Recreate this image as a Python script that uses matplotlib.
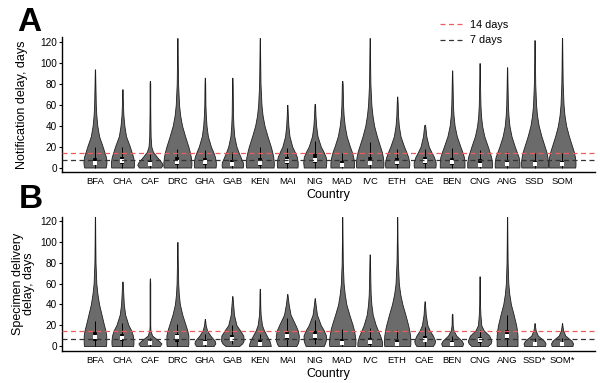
import matplotlib
matplotlib.use("Agg")
import matplotlib.pyplot as plt
from matplotlib.lines import Line2D
import numpy as np

plt.rcParams['font.family'] = ['Liberation Sans', 'DejaVu Sans']

countries_a = ["BFA", "CHA", "CAF", "DRC", "GHA", "GAB", "KEN", "MAI", "NIG",
               "MAD", "IVC", "ETH", "CAE", "BEN", "CNG", "ANG", "SSD", "SOM"]
countries_b = ["BFA", "CHA", "CAF", "DRC", "GHA", "GAB", "KEN", "MAI", "NIG",
               "MAD", "IVC", "ETH", "CAE", "BEN", "CNG", "ANG", "SSD*", "SOM*"]

# density profile levels (days) and half-widths
levels = [0, 2.5, 5, 10, 15, 20, 30, 40, 50, 60, 80, 100]

prof_a = [
    [0.39, 0.41, 0.42, 0.40, 0.34, 0.28, 0.15, 0.085, 0.05, 0.03, 0.015],
    [0.41, 0.42, 0.42, 0.39, 0.33, 0.27, 0.13, 0.07, 0.035, 0.02],
    [0.40, 0.46, 0.42, 0.26, 0.11, 0.05, 0.025, 0.02, 0.015],
    [0.50, 0.51, 0.51, 0.49, 0.45, 0.40, 0.28, 0.17, 0.10, 0.06, 0.025, 0.015],
    [0.39, 0.40, 0.40, 0.37, 0.30, 0.22, 0.11, 0.06, 0.035, 0.02, 0.012],
    [0.38, 0.39, 0.38, 0.30, 0.22, 0.15, 0.07, 0.04, 0.025, 0.02, 0.012],
    [0.50, 0.51, 0.51, 0.49, 0.45, 0.40, 0.28, 0.17, 0.10, 0.06, 0.025, 0.015],
    [0.37, 0.38, 0.38, 0.35, 0.27, 0.18, 0.08, 0.04, 0.02],
    [0.40, 0.41, 0.42, 0.40, 0.32, 0.22, 0.10, 0.05, 0.025],
    [0.43, 0.43, 0.43, 0.40, 0.35, 0.28, 0.16, 0.09, 0.05, 0.03, 0.015],
    [0.49, 0.50, 0.50, 0.48, 0.44, 0.38, 0.26, 0.16, 0.10, 0.06, 0.025, 0.015],
    [0.43, 0.44, 0.44, 0.40, 0.33, 0.25, 0.12, 0.06, 0.03, 0.02],
    [0.39, 0.40, 0.40, 0.34, 0.24, 0.15, 0.06, 0.02],
    [0.45, 0.45, 0.45, 0.43, 0.37, 0.30, 0.17, 0.09, 0.05, 0.03, 0.015],
    [0.45, 0.45, 0.45, 0.42, 0.36, 0.30, 0.17, 0.09, 0.05, 0.03, 0.015],
    [0.45, 0.45, 0.45, 0.42, 0.35, 0.28, 0.16, 0.085, 0.05, 0.03, 0.015],
    [0.48, 0.49, 0.49, 0.47, 0.43, 0.37, 0.25, 0.15, 0.09, 0.055, 0.025, 0.015],
    [0.48, 0.49, 0.49, 0.47, 0.43, 0.37, 0.25, 0.15, 0.09, 0.055, 0.025, 0.015],
]
max_a = [94, 75, 83, 124, 86, 86, 124, 60, 61, 83, 124, 68, 41, 93, 100, 96, 122, 124]
med_a = [4, 6, 3, 5, 5, 3, 4, 6, 7, 2, 4, 5, 6, 5, 2, 3, 3, 3]
q1_a = [2, 3, 1, 2, 2, 1, 1, 3, 4, 1, 2, 2, 3, 2, 1, 1, 1, 1]
q3_a = [9, 10, 6, 10, 9, 7, 9, 10, 13, 6, 10, 9, 10, 9, 8, 7, 6, 6]
wlo_a = [0] * 18
whi_a = [20, 20, 13, 18, 17, 15, 20, 19, 25, 14, 24, 18, 18, 19, 17, 15, 14, 14]

prof_b = [
    [0.40, 0.41, 0.41, 0.41, 0.38, 0.33, 0.24, 0.15, 0.09, 0.05, 0.02, 0.012],
    [0.39, 0.40, 0.40, 0.38, 0.32, 0.22, 0.10, 0.05, 0.03, 0.015],
    [0.36, 0.42, 0.32, 0.08, 0.02],
    [0.39, 0.40, 0.40, 0.40, 0.36, 0.30, 0.18, 0.09, 0.05, 0.03, 0.015],
    [0.32, 0.38, 0.36, 0.20, 0.08, 0.03],
    [0.25, 0.36, 0.41, 0.40, 0.28, 0.15, 0.06, 0.03],
    [0.40, 0.38, 0.35, 0.25, 0.15, 0.08, 0.03, 0.015, 0.012],
    [0.33, 0.38, 0.41, 0.42, 0.38, 0.30, 0.12, 0.05, 0.015],
    [0.33, 0.37, 0.40, 0.41, 0.33, 0.22, 0.08, 0.03],
    [0.47, 0.48, 0.48, 0.46, 0.43, 0.38, 0.26, 0.15, 0.09, 0.05, 0.02, 0.012],
    [0.45, 0.45, 0.44, 0.38, 0.30, 0.22, 0.11, 0.06, 0.035, 0.025, 0.012],
    [0.47, 0.48, 0.48, 0.47, 0.44, 0.40, 0.30, 0.19, 0.11, 0.06, 0.025, 0.012],
    [0.30, 0.36, 0.38, 0.30, 0.18, 0.10, 0.04, 0.015],
    [0.37, 0.40, 0.35, 0.15, 0.05, 0.02],
    [0.30, 0.40, 0.43, 0.35, 0.15, 0.06, 0.03, 0.015, 0.012],
    [0.38, 0.38, 0.38, 0.38, 0.36, 0.33, 0.24, 0.14, 0.08, 0.045, 0.02, 0.012],
    [0.38, 0.40, 0.35, 0.12, 0.04],
    [0.38, 0.40, 0.35, 0.12, 0.04],
]
max_b = [124, 62, 65, 100, 26, 48, 55, 50, 46, 124, 88, 124, 43, 31, 67, 124, 22, 22]
med_b = [9, 8, 3, 9, 3, 7, 2, 10, 10, 3, 4, 2, 6, 2, 6, 10, 2, 2]
q1_b = [5, 5, 1.5, 4, 1, 5, 1, 6, 6, 1, 1, 1, 4, 1, 3, 7, 1, 1]
q3_b = [13, 12, 4.5, 12, 6, 11, 6, 14, 14, 7, 8, 6, 10, 5, 9, 15, 4, 4]
wlo_b = [0, 0, 0, 0, 0, 2, 0, 0, 2, 0, 0, 0, 0, 0, 0, 0, 0, 0]
whi_b = [24, 22, 8, 21, 12, 20, 12, 27, 25, 16, 17, 15, 18, 10, 15, 30, 8, 8]

thresholds = [14, 7]
threshold_labels = ["14 days", "7 days"]
threshold_colors = ["#f05a5a", "#333333"]

TAIL = 0.012


def build_stats(profiles, maxima, meds):
    stats = []
    widths = []
    for prof, mx, md in zip(profiles, maxima, meds):
        coords, vals = [], []
        for i, lv in enumerate(levels):
            if lv >= mx:
                break
            coords.append(lv)
            vals.append(prof[i] if i < len(prof) else TAIL)
        coords.append(mx)
        vals.append(0.005)
        vals = np.array(vals)
        stats.append(dict(coords=np.array(coords, float), vals=vals,
                          mean=md, median=md, min=0, max=mx))
        widths.append(2 * vals.max())
    return stats, widths


def draw_panel(ax, labels, profiles, maxima, meds, q1, q3, wlo, whi, ylim):
    pos = np.arange(1, len(labels) + 1)
    stats, widths = build_stats(profiles, maxima, meds)
    parts = ax.violin(stats, positions=pos, widths=widths,
                      showmeans=False, showextrema=False, showmedians=False)
    for b in parts['bodies']:
        b.set_facecolor('#6b6b6b')
        b.set_edgecolor('#1e1e1e')
        b.set_linewidth(0.6)
        b.set_alpha(1)
        b.set_zorder(2)
    ax.vlines(pos, wlo, whi, color='black', lw=0.7, zorder=3)
    ax.vlines(pos, q1, q3, color='black', lw=2.6, zorder=3)
    ax.scatter(pos, meds, marker='s', s=5, color='white', zorder=4, linewidths=0)
    for t, c in zip(thresholds, threshold_colors):
        ax.axhline(t, color=c, lw=0.9, ls=(0, (4, 2.8)), zorder=5)
    ax.set_xlim(-0.2, len(labels) + 1.2)
    ax.set_ylim(*ylim)
    ax.set_yticks([0, 20, 40, 60, 80, 100, 120])
    ax.set_xticks(pos)
    ax.set_xticklabels(labels)
    for s in ['top', 'right']:
        ax.spines[s].set_visible(False)
    for s in ['left', 'bottom']:
        ax.spines[s].set_linewidth(1.0)
        ax.spines[s].set_color('black')
    ax.tick_params(axis='x', length=0, pad=3.5, labelsize=6.8, colors='black')
    ax.tick_params(axis='y', length=2, width=0.8, pad=1.5, labelsize=7.2, colors='black')
    ax.set_xlabel("Country", fontsize=9, labelpad=2)


fig = plt.figure(figsize=(6.0, 3.83), dpi=100)
axA = fig.add_axes([62 / 600, 1 - 172 / 383, 533 / 600, 135 / 383])
axB = fig.add_axes([62 / 600, 1 - 351 / 383, 533 / 600, 134 / 383])

draw_panel(axA, countries_a, prof_a, max_a, med_a, q1_a, q3_a, wlo_a, whi_a, (-4.3, 125))
draw_panel(axB, countries_b, prof_b, max_b, med_b, q1_b, q3_b, wlo_b, whi_b, (-4.8, 124))

axA.set_ylabel("Notification delay, days", fontsize=9)
axA.yaxis.set_label_coords(-0.064, 0.5)
axB.set_ylabel("Specimen delivery\ndelay, days", fontsize=9, linespacing=0.95)
axB.yaxis.set_label_coords(-0.05, 0.5)

fig.text(17 / 600, 1 - 31 / 383, "A", fontsize=24, fontweight='bold', va='baseline', ha='left')
fig.text(19 / 600, 1 - 208 / 383, "B", fontsize=24, fontweight='bold', va='baseline', ha='left')

handles = [Line2D([0], [0], color=c, lw=0.9, ls=(0, (4, 2.8))) for c in threshold_colors]
axA.legend(handles, threshold_labels, loc='upper left',
           bbox_to_anchor=(440 / 600, 1 - 20 / 383), bbox_transform=fig.transFigure,
           frameon=False, fontsize=7.8, handlelength=2.3, handletextpad=0.5,
           labelspacing=0.5, borderpad=0, borderaxespad=0)

fig.savefig("out.png", dpi=100)
